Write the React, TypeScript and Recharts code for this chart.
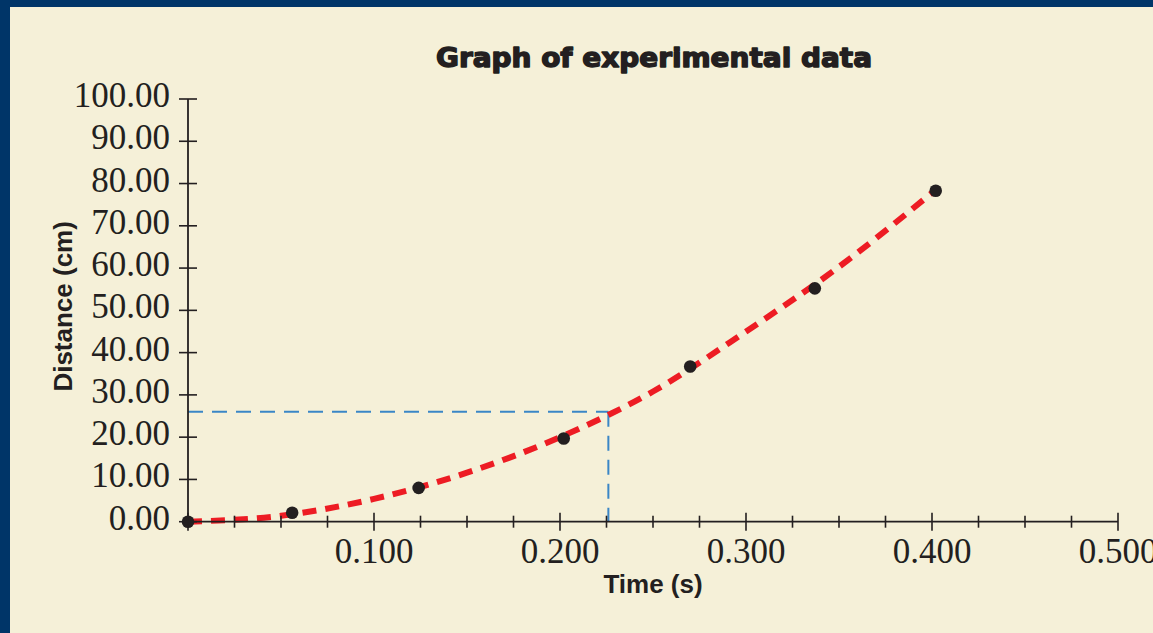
import React from 'react';
import { ComposedChart, Line, Scatter, XAxis, YAxis, ReferenceLine, Label } from 'recharts';

// measured points
const TIME_S = [0, 0.056, 0.124, 0.202, 0.27, 0.337, 0.402];
const DISTANCE_CM = [0, 2.1, 8.0, 19.7, 36.7, 55.2, 78.3];

// red dashed best-fit curve
const FIT_TIME_S = [0, 0.05, 0.1, 0.15, 0.2, 0.25, 0.3, 0.35, 0.4];
const FIT_DISTANCE_CM = [0, 1.4, 5.4, 11.6, 20.0, 30.8, 45.0, 60.3, 77.8];

// blue read-off lines
const READ_TIME_S = 0.226;
const READ_DISTANCE_CM = 26;

const X_TICKS = [0, 0.025, 0.05, 0.075, 0.1, 0.125, 0.15, 0.175, 0.2, 0.225, 0.25, 0.275, 0.3, 0.325, 0.35, 0.375, 0.4, 0.425, 0.45, 0.475, 0.5];
const Y_TICKS = [0, 10, 20, 30, 40, 50, 60, 70, 80, 90, 100];

const points = TIME_S.map((t, i) => ({ t, d: DISTANCE_CM[i] }));
const fit = FIT_TIME_S.map((t, i) => ({ t, d: FIT_DISTANCE_CM[i] }));

const INK = '#231f20';
const SERIF = '"Liberation Serif", "Times New Roman", serif';
const SANS = '"Liberation Sans", Arial, sans-serif';

const YTick = ({ x, y, payload }: any) => (
  <g>
    <line x1={x - 9} x2={x + 9} y1={y} y2={y} stroke={INK} strokeWidth={1.6} />
    <text x={x - 18} y={y + 8} textAnchor="end" fontFamily={SERIF} fontSize={35} fill={INK}>
      {Number(payload.value).toFixed(2)}
    </text>
  </g>
);

const XTick = ({ x, y, payload }: any) => {
  const v = Number(payload.value);
  const major = Math.abs(v * 10 - Math.round(v * 10)) < 1e-6;
  const len = major ? 9 : 6;
  return (
    <g>
      <line x1={x} x2={x} y1={y - len} y2={y + len} stroke={INK} strokeWidth={1.6} />
      {major && v > 0 && (
        <text x={x} y={y + 41.5} textAnchor="middle" fontFamily={SERIF} fontSize={35} fill={INK}>
          {v.toFixed(3)}
        </text>
      )}
    </g>
  );
};

const Dot = (props: any) => <circle cx={props.cx} cy={props.cy} r={6.3} fill={INK} />;

export default function App() {
  return (
    <div style={{ position: 'absolute', left: 0, top: 0, width: 1153, height: 633, background: '#003568', overflow: 'hidden' }}>
      <div style={{ position: 'absolute', left: 10, top: 7, width: 1143, height: 626, background: '#f5f0d8' }} />
      <div style={{ position: 'absolute', left: 0, top: 0 }}>
        <ComposedChart width={1153} height={633} margin={{ top: 99, right: 35, bottom: 40, left: 108 }}>
          <XAxis
            dataKey="t"
            type="number"
            domain={[0, 0.5]}
            ticks={X_TICKS}
            interval={0}
            tickSize={0}
            tickMargin={0}
            tick={<XTick />}
            height={71.3}
            axisLine={{ stroke: INK, strokeWidth: 1.8 }}
            tickLine={false}
          >
            <Label
              content={({ viewBox }: any) => (
                <text
                  x={viewBox.x + viewBox.width / 2}
                  y={viewBox.y + 71.5}
                  textAnchor="middle"
                  fontFamily={SANS}
                  fontWeight="bold"
                  fontSize={26}
                  fill={INK}
                >
                  Time (s)
                </text>
              )}
            />
          </XAxis>
          <YAxis
            dataKey="d"
            type="number"
            domain={[0, 100]}
            ticks={Y_TICKS}
            interval={0}
            tickSize={0}
            tickMargin={0}
            tick={<YTick />}
            width={80}
            axisLine={{ stroke: INK, strokeWidth: 1.8 }}
            tickLine={false}
          >
            <Label
              content={({ viewBox }: any) => {
                const cx = viewBox.x - 36;
                const cy = viewBox.y + viewBox.height / 2 - 4;
                return (
                  <text
                    x={cx}
                    y={cy}
                    transform={`rotate(-90, ${cx}, ${cy})`}
                    textAnchor="middle"
                    fontFamily={SANS}
                    fontWeight="bold"
                    fontSize={26}
                    fill={INK}
                  >
                    Distance (cm)
                  </text>
                );
              }}
            />
          </YAxis>
          <ReferenceLine
            segment={[{ x: 0, y: READ_DISTANCE_CM }, { x: READ_TIME_S, y: READ_DISTANCE_CM }]}
            stroke="#3a86c6"
            strokeWidth={2}
            strokeDasharray="15 9"
          />
          <ReferenceLine
            segment={[{ x: READ_TIME_S, y: READ_DISTANCE_CM }, { x: READ_TIME_S, y: 0 }]}
            stroke="#3a86c6"
            strokeWidth={2}
            strokeDasharray="15 9"
          />
          <Line
            data={fit}
            dataKey="d"
            type="monotone"
            stroke="#ed1c24"
            strokeWidth={6}
            strokeDasharray="14 9"
            dot={false}
            activeDot={false}
            isAnimationActive={false}
          />
          <Scatter data={points} dataKey="d" shape={<Dot />} isAnimationActive={false} />
        </ComposedChart>
      </div>
      <svg width={1153} height={633} style={{ position: 'absolute', left: 0, top: 0, pointerEvents: 'none' }}>
        <text
          x={654}
          y={67}
          textAnchor="middle"
          fontFamily='"DejaVu Sans", sans-serif'
          fontWeight="bold"
          fontSize={26}
          textLength={436}
          lengthAdjust="spacingAndGlyphs"
          fill={INK}
          stroke={INK}
          strokeWidth={1.4}
          strokeLinejoin="round"
        >
          Graph of experimental data
        </text>
      </svg>
    </div>
  );
}
